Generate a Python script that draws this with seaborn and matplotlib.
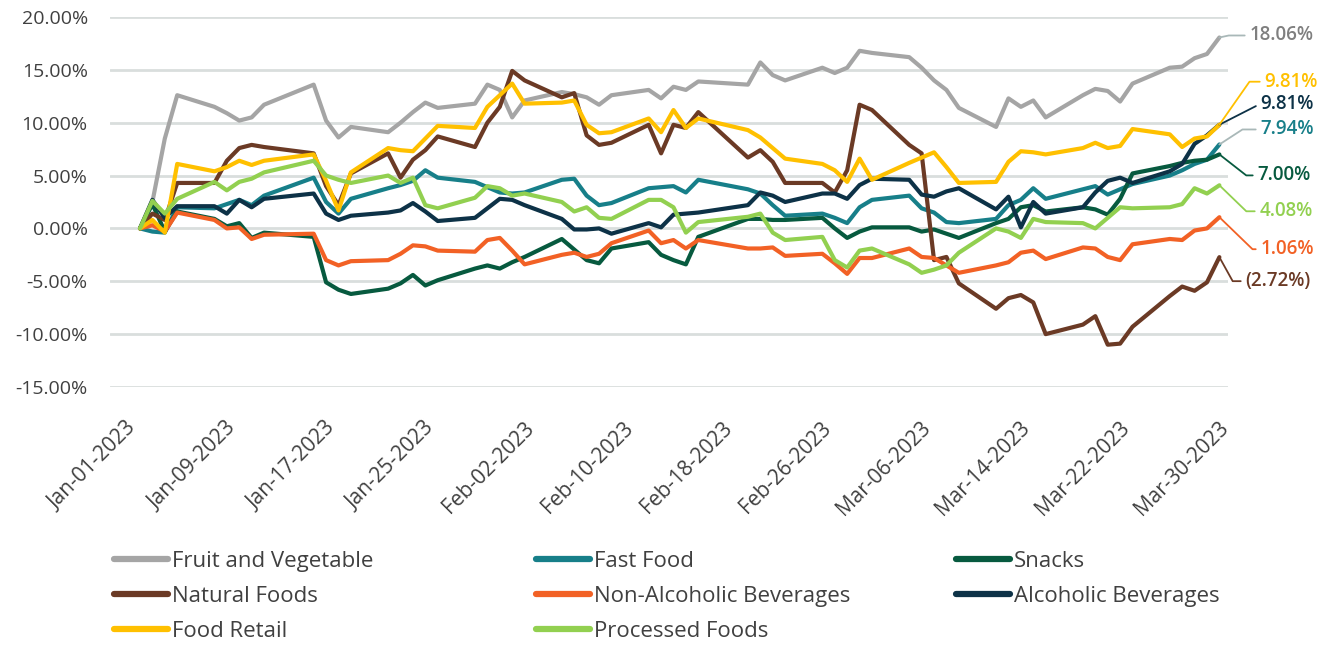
"""Cumulative return of food & beverage sub-industries, Q1 2023."""

import matplotlib

matplotlib.use("Agg")

import matplotlib.pyplot as plt
import pandas as pd
import seaborn as sns
from matplotlib.lines import Line2D
from matplotlib.ticker import FuncFormatter, MultipleLocator
from matplotlib.transforms import ScaledTranslation

# trading days, Jan 3 - Mar 31 2023 (US market holidays skipped)
dates = pd.bdate_range("2023-01-03", "2023-03-31", freq="C",
                       holidays=["2023-01-16", "2023-02-20"])

fruit_veg = [0, 2.5, 8.5, 12.6, 11.5, 10.9, 10.2, 10.5, 11.7, 13.6, 10.2, 8.6, 9.6,
             9.1, 10.0, 11.0, 11.9, 11.4, 11.8, 13.6, 13.1, 10.5, 12.1, 12.9, 12.7,
             12.4, 11.7, 12.6, 13.1, 12.3, 13.4, 13.1, 13.9, 13.6, 15.7, 14.5, 14.0,
             15.2, 14.7, 15.2, 16.8, 16.6, 16.2, 15.2, 14.0, 13.1, 11.4, 9.6, 12.3,
             11.5, 12.1, 10.5, 12.6, 13.2, 13.0, 12.0, 13.7, 15.2, 15.3, 16.1, 16.5,
             18.06]
fast_food = [0, -0.3, -0.4, 2.0, 1.9, 2.3, 2.7, 2.2, 3.1, 4.8, 2.5, 1.4, 2.8, 3.8,
             4.1, 4.5, 5.5, 4.8, 4.4, 3.9, 3.4, 3.3, 3.4, 4.6, 4.7, 3.1, 2.2, 2.4,
             3.8, 3.9, 4.0, 3.4, 4.6, 3.7, 3.3, 2.2, 1.2, 1.4, 1.0, 0.5, 2.0, 2.7,
             3.1, 1.9, 1.5, 0.6, 0.5, 0.9, 2.2, 2.7, 3.8, 2.8, 3.7, 4.0, 3.2, 3.7,
             4.2, 5.0, 5.5, 6.1, 6.5, 7.94]
snacks = [0, 2.3, -0.3, 1.6, 0.9, 0.2, 0.5, -0.9, -0.4, -0.8, -5.1, -5.8, -6.2,
          -5.7, -5.2, -4.4, -5.4, -4.9, -3.8, -3.5, -3.8, -3.2, -2.7, -1.0, -2.0,
          -3.0, -3.3, -1.9, -1.3, -2.5, -3.0, -3.4, -0.8, 0.9, 0.9, 0.8, 0.8, 1.0,
          0.0, -0.9, -0.3, 0.1, 0.1, -0.3, -0.1, -0.5, -0.9, 0.5, 0.9, 2.0, 2.2,
          1.6, 2.0, 1.8, 1.3, 2.8, 5.2, 5.9, 6.2, 6.4, 6.5, 7.00]
natural_foods = [0, 1.4, 0.8, 4.3, 4.3, 6.4, 7.6, 7.9, 7.7, 7.1, 4.0, 2.2, 5.2, 7.1,
                 4.8, 6.5, 7.4, 8.7, 7.7, 10.0, 11.5, 14.9, 14.0, 12.4, 12.8, 8.8,
                 7.9, 8.1, 9.8, 7.1, 9.8, 9.5, 11.0, 6.7, 7.4, 6.3, 4.3, 4.3, 3.4,
                 5.5, 11.7, 11.2, 7.9, 7.1, -3.0, -2.7, -5.2, -7.6, -6.6, -6.3, -7.0,
                 -10.0, -9.1, -8.3, -11.0, -10.9, -9.3, -6.4, -5.5, -5.9, -5.1, -2.72]
non_alc_bev = [0, 0.3, -0.3, 1.5, 0.8, 0.0, 0.1, -1.0, -0.6, -0.5, -3.0, -3.5, -3.1,
               -3.0, -2.4, -1.6, -1.7, -2.1, -2.2, -1.1, -0.9, -2.1, -3.4, -2.5,
               -2.3, -2.7, -2.4, -1.4, -0.2, -1.4, -1.1, -1.9, -1.1, -1.9, -1.9,
               -1.8, -2.6, -2.4, -3.3, -4.3, -2.8, -2.8, -1.9, -2.7, -2.8, -3.5,
               -4.2, -3.5, -3.2, -2.3, -2.1, -2.9, -1.8, -1.9, -2.7, -3.0, -1.5,
               -1.0, -1.1, -0.2, 0.0, 1.06]
alc_bev = [0, 2.7, 1.0, 2.1, 2.1, 1.4, 2.7, 2.0, 2.8, 3.3, 1.4, 0.8, 1.2, 1.5, 1.7,
           2.4, 1.6, 0.7, 1.0, 1.9, 2.8, 2.7, 2.2, 0.9, -0.1, -0.1, 0.0, -0.5, 0.5,
           0.1, 1.3, 1.4, 1.5, 2.2, 3.4, 3.1, 2.5, 3.3, 3.3, 2.8, 4.1, 4.7, 4.6,
           3.2, 3.0, 3.5, 3.8, 1.8, 3.0, 0.1, 2.5, 1.4, 2.0, 3.4, 4.5, 4.8, 4.3,
           5.4, 6.1, 8.0, 8.8, 9.81]
food_retail = [0, 0.8, -0.4, 6.1, 5.4, 5.8, 6.4, 6.0, 6.4, 7.0, 4.5, 1.7, 5.3, 7.6,
               7.4, 7.3, 8.5, 9.7, 9.5, 11.5, 12.6, 13.7, 11.8, 11.9, 12.1, 9.8,
               9.0, 9.1, 10.4, 9.1, 11.2, 9.5, 10.4, 9.3, 8.6, 7.6, 6.6, 6.1, 5.5,
               4.4, 6.6, 4.6, 6.2, 6.7, 7.2, 5.8, 4.3, 4.4, 6.3, 7.3, 7.2, 7.0, 7.6,
               8.1, 7.6, 7.8, 9.4, 8.9, 7.7, 8.5, 8.7, 9.81]
processed_foods = [0, 2.6, 1.4, 2.8, 4.4, 3.6, 4.4, 4.7, 5.3, 6.4, 5.0, 4.6, 4.3,
                   5.0, 4.3, 4.8, 2.2, 1.9, 2.9, 4.0, 3.8, 3.1, 3.3, 2.5, 1.6, 2.0,
                   1.0, 0.9, 2.7, 2.7, 2.0, -0.4, 0.6, 1.1, 1.4, -0.4, -1.1, -0.8,
                   -3.0, -3.7, -2.1, -1.9, -3.4, -4.2, -3.9, -3.5, -2.3, 0.0, -0.3,
                   -0.9, 0.9, 0.6, 0.5, 0.0, 1.0, 2.0, 1.9, 2.0, 2.3, 3.8, 3.3, 4.08]

series_names = ["Fruit and Vegetable", "Fast Food", "Snacks", "Natural Foods",
                "Non-Alcoholic Beverages", "Alcoholic Beverages", "Food Retail",
                "Processed Foods"]
series_values = [fruit_veg, fast_food, snacks, natural_foods, non_alc_bev, alc_bev,
                 food_retail, processed_foods]
colors = ["#A5A5A5", "#177F89", "#075A3F", "#6B3A25", "#F26125", "#0D3247",
          "#FFC000", "#92D050"]

# end-label styling: text colour, leader colour, offset (px), leader angle
label_style = {
    "Fruit and Vegetable": ("#7F7F7F", "#A9B8B8", (30, 2), 12),
    "Fast Food": ("#177F89", "#A9B8B8", (41, 15), 33),
    "Snacks": ("#075A3F", "#075A3F", (38, -21), -38),
    "Natural Foods": ("#6B3A25", "#6B3A25", (26, -24), -61),
    "Non-Alcoholic Beverages": ("#F26125", "#F26125", (41, -32), -44),
    "Alcoholic Beverages": ("#0D3247", "#0D3247", (41, 21), 27),
    "Food Retail": ("#FFC000", "#FFC000", (45, 43), 55),
    "Processed Foods": ("#92D050", "#92D050", (40, -26), -44),
}

df = pd.DataFrame({"Date": dates})
for name, vals in zip(series_names, series_values):
    df[name] = vals
long_df = df.melt(id_vars="Date", var_name="Series", value_name="Return")

sns.set_theme(style="white")
plt.rcParams["font.family"] = ["Open Sans", "DejaVu Sans"]
text_color = "#404040"

fig = plt.figure(figsize=(13.35, 6.48), dpi=100)
ax = fig.add_axes([0.0824, 0.4028, 0.8375, 0.571])

sns.lineplot(data=long_df, x="Date", y="Return", hue="Series",
             hue_order=series_names, palette=colors, linewidth=3,
             solid_joinstyle="round", solid_capstyle="round",
             legend=False, ax=ax)

start = pd.Timestamp("2023-01-01")
ax.set_xlim(start - pd.Timedelta(hours=10), start + pd.Timedelta(days=89.7))
ax.set_ylim(-15, 20)
ax.yaxis.set_major_locator(MultipleLocator(5))
ax.yaxis.set_major_formatter(FuncFormatter(lambda v, _: f"{v:.2f}%"))

tick_dates = pd.date_range("2023-01-01", "2023-03-30", freq="8D")
ax.set_xticks(tick_dates)
ax.set_xticklabels([d.strftime("%b-%d-%Y") for d in tick_dates], rotation=45,
                   ha="right", va="top", rotation_mode="anchor")
ax.tick_params(axis="x", length=0, pad=22, labelsize=15, labelcolor=text_color)
ax.tick_params(axis="y", length=0, pad=16, labelsize=14, labelcolor=text_color)
shift = ScaledTranslation(0.11, 0, fig.dpi_scale_trans)
for lab in ax.get_xticklabels():
    lab.set_transform(lab.get_transform() + shift)
ax.grid(axis="y", color="#D9DEDD", linewidth=2)
ax.grid(axis="x", visible=False)
for spine in ax.spines.values():
    spine.set_visible(False)
ax.set_xlabel("")
ax.set_ylabel("")

# end-of-series labels with leader lines
for name, vals in zip(series_names, series_values):
    tcol, lcol, offset, angle = label_style[name]
    last = vals[-1]
    txt = f"{last:.2f}%" if last >= 0 else f"({abs(last):.2f}%)"
    ax.annotate(txt, xy=(dates[-1], last), xytext=offset,
                textcoords="offset pixels", ha="left", va="center",
                fontsize=13.5, fontweight="semibold", color=tcol,
                annotation_clip=False,
                arrowprops=dict(arrowstyle="-", color=lcol, lw=1.3,
                                shrinkA=1, shrinkB=0, relpos=(0, 0.5),
                                connectionstyle=f"angle,angleA=0,angleB={angle},rad=0"))

# legend laid out in three fixed columns, filled row by row
handles = {n: Line2D([], [], color=c, lw=4.5, solid_capstyle="round")
           for n, c in zip(series_names, colors)}
columns = [series_names[0::3], series_names[1::3], series_names[2::3]]
col_x = [0.0854, 0.4015, 0.716]
for names, x in zip(columns, col_x):
    fig.legend([handles[n] for n in names], names, loc="upper left",
               bbox_to_anchor=(x, 0.1497), frameon=False, fontsize=16,
               handlelength=2.45, handletextpad=0.18, labelspacing=0.62,
               borderpad=0, borderaxespad=0, labelcolor=text_color)

fig.savefig("out.png", dpi=100)
